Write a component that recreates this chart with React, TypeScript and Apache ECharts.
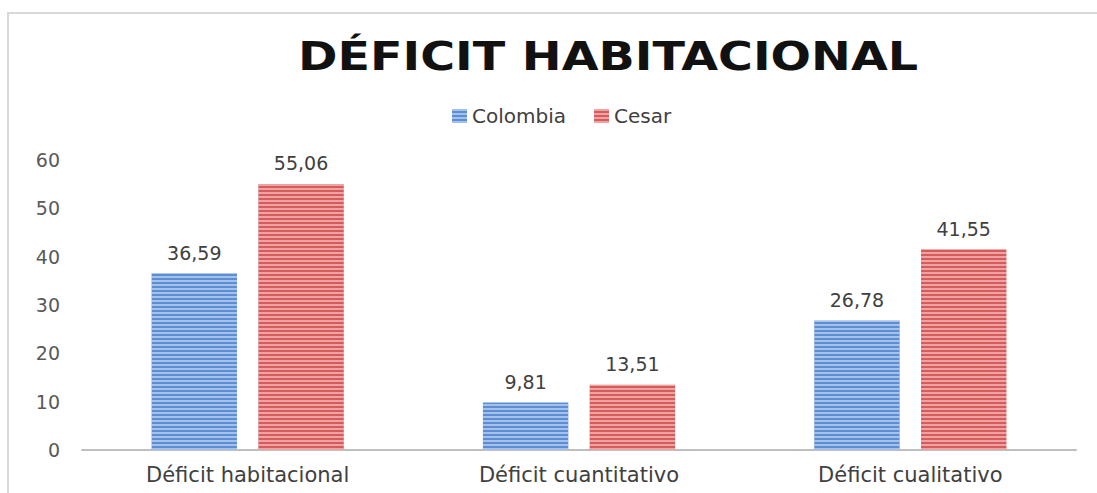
import React, { useEffect, useRef } from "react";
import * as echarts from "echarts";

const categories = ["Déficit habitacional", "Déficit cuantitativo", "Déficit cualitativo"];
const colombia = [36.59, 9.81, 26.78];
const cesar = [55.06, 13.51, 41.55];
const seriesNames = ["Colombia", "Cesar"];
const yTicks = [0, 10, 20, 30, 40, 50, 60];
const titleText = "DÉFICIT HABITACIONAL";

const fmt = (v: number) => v.toFixed(2).replace(".", ",");
const FONT = "DejaVu Sans";

export default function App() {
  const ref = useRef<HTMLDivElement>(null);
  useEffect(() => {
    if (!ref.current) return;
    const chart = echarts.init(ref.current, undefined, { renderer: "svg" });
    const decal = {
      symbol: "rect",
      dashArrayX: [1, 0],
      dashArrayY: [2, 2],
      symbolSize: 1,
      color: "rgba(255,255,255,0.45)",
      rotation: 0,
    };
    const label = {
      show: true,
      position: "top",
      distance: 11,
      formatter: (p: any) => fmt(p.value),
      fontFamily: FONT,
      fontSize: 19,
      color: "#404040",
    };
    chart.setOption({
      animation: false,
      backgroundColor: "#ffffff",
      legend: {
        data: seriesNames,
        top: 101,
        left: 447,
        itemWidth: 15,
        itemHeight: 14,
        itemGap: 28,
        icon: "rect",
        textStyle: { fontFamily: FONT, fontSize: 20, color: "#404040" },
      },
      graphic: [
        {
          type: "rect",
          shape: { x: 8, y: 13, width: 1200, height: 600 },
          style: { fill: "none", stroke: "#d9d9d9", lineWidth: 2 },
          silent: true,
        },
        {
          type: "text",
          x: 608,
          y: 57,
          scaleX: 1.22,
          style: {
            text: titleText,
            align: "center",
            verticalAlign: "middle",
            fontFamily: FONT,
            fontWeight: "bold",
            fontSize: 39,
            fill: "#111111",
          },
        },
      ],
      grid: { left: 82, right: 21, top: 160, bottom: 43 },
      xAxis: {
        type: "category",
        data: categories,
        axisLine: { lineStyle: { color: "#bfbfbf", width: 2 } },
        axisTick: { show: false },
        axisLabel: {
          fontFamily: FONT,
          fontSize: 21,
          color: "#404040",
          margin: 14,
        },
      },
      yAxis: {
        type: "value",
        min: yTicks[0],
        max: yTicks[yTicks.length - 1],
        interval: 10,
        splitLine: { show: false },
        axisLine: { show: false },
        axisTick: { show: false },
        axisLabel: {
          fontFamily: FONT,
          fontSize: 19,
          color: "#595959",
          margin: 22,
        },
      },
      series: [
        {
          name: seriesNames[0],
          type: "bar",
          data: colombia,
          barGap: "25%",
          barCategoryGap: "42%",
          itemStyle: { color: "#5b8ed4", decal },
          label,
        },
        {
          name: seriesNames[1],
          type: "bar",
          data: cesar,
          barGap: "25%",
          barCategoryGap: "42%",
          itemStyle: { color: "#d85a5a", decal },
          label,
        },
      ],
    });
    return () => chart.dispose();
  }, []);
  return (
    <div
      ref={ref}
      style={{ position: "fixed", left: 0, top: 0, width: 1097, height: 493 }}
    />
  );
}
